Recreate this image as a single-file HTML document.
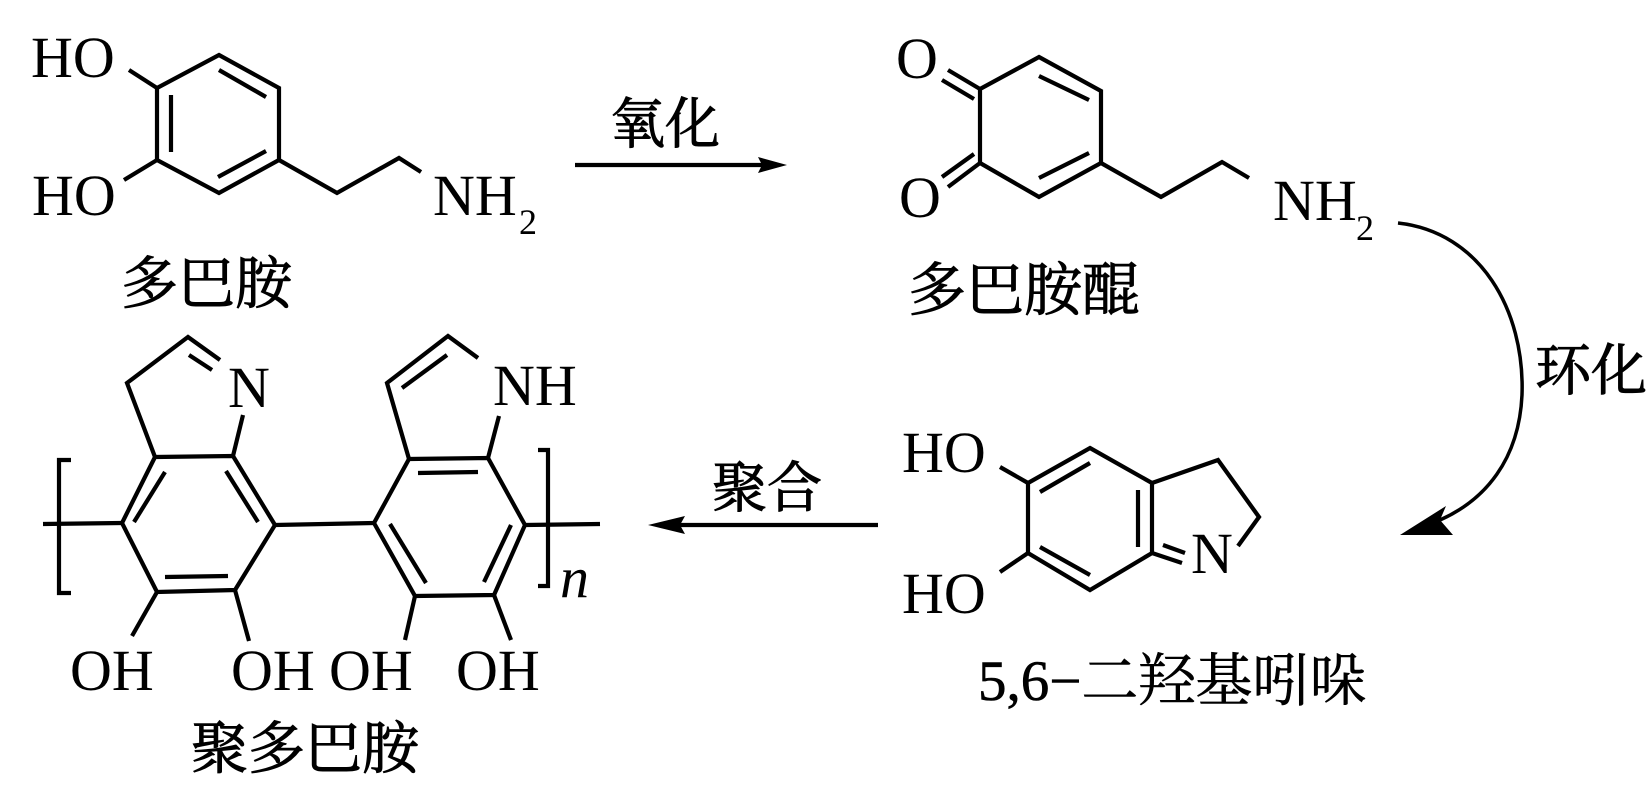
<!DOCTYPE html>
<html><head><meta charset="utf-8"><style>
html,body{margin:0;padding:0;background:#fff;}
svg{display:block;}
.t{font-family:"Liberation Serif",serif;font-size:58px;fill:#000;}
.c{font-family:"Liberation Serif","Noto Serif CJK SC",serif;font-size:57px;fill:#000;stroke:#000;stroke-width:1;}
</style></head><body>
<svg width="1647" height="799" viewBox="0 0 1647 799" xmlns="http://www.w3.org/2000/svg">
<g stroke="#000" stroke-width="4.2" fill="none" stroke-linecap="butt" stroke-linejoin="miter">
<!-- dopamine -->
<polygon points="219,55 279,88 279,160 219,193 157,160 157,88"/>
<line x1="219" y1="70" x2="266" y2="97"/>
<line x1="171" y1="95" x2="171" y2="152"/>
<line x1="218" y1="177" x2="266" y2="151"/>
<line x1="157" y1="88" x2="129" y2="70"/>
<line x1="157" y1="160" x2="124" y2="180"/>
<polyline points="279,160 337,193 399,158 421,172"/>
<!-- oxidation arrow -->
<line x1="575" y1="165" x2="765" y2="165"/>
<!-- quinone -->
<polygon points="1039,57 1101,91 1101,163 1039,197 980,163 980,89"/>
<line x1="1039" y1="76" x2="1089" y2="100"/>
<line x1="1039" y1="178" x2="1089" y2="153"/>
<line x1="980" y1="89" x2="948" y2="70"/>
<line x1="974" y1="99" x2="942" y2="80"/>
<line x1="980" y1="163" x2="948" y2="187"/>
<line x1="974" y1="154" x2="942" y2="177"/>
<polyline points="1101,163 1161,197 1222,162 1249,178"/>
<!-- curved arrow -->
<path d="M1398,223 C1480,232 1525,310 1522,395 C1519,460 1485,500 1440,520" stroke-width="3.5"/>
<!-- indole -->
<polygon points="1090,448 1152,483 1152,553 1090,590 1028,553 1028,483"/>
<line x1="1040" y1="492" x2="1090" y2="463"/>
<line x1="1138" y1="490" x2="1138" y2="547"/>
<line x1="1040" y1="547" x2="1090" y2="575"/>
<polyline points="1152,483 1218,460 1259,517 1238,546"/>
<line x1="1152" y1="553" x2="1182" y2="563"/>
<line x1="1163" y1="545" x2="1185" y2="553"/>
<line x1="1028" y1="483" x2="1000" y2="467"/>
<line x1="1028" y1="553" x2="1000" y2="572"/>
<!-- polymerization arrow -->
<line x1="670" y1="525" x2="878" y2="525"/>
<!-- polymer left ring -->
<polygon points="155,457 233,456 275,525 235,590 157,592 122,523"/>
<line x1="165" y1="472" x2="134" y2="522"/>
<line x1="226" y1="471" x2="258" y2="522"/>
<line x1="165" y1="577" x2="228" y2="576"/>
<polyline points="155,457 127,383 188,337 220,360"/>
<line x1="189" y1="355" x2="212" y2="370"/>
<line x1="243" y1="415" x2="233" y2="456"/>
<line x1="43" y1="524" x2="122" y2="523"/>
<line x1="275" y1="525" x2="374" y2="523"/>
<!-- polymer right ring -->
<polygon points="409,459 488,458 525,525 494,595 415,596 374,523"/>
<line x1="418" y1="473" x2="478" y2="472"/>
<line x1="390" y1="524" x2="426" y2="583"/>
<line x1="511" y1="525" x2="484" y2="582"/>
<polyline points="409,459 387,383 448,336 478,358"/>
<line x1="402" y1="388" x2="447" y2="355"/>
<line x1="499" y1="416" x2="488" y2="458"/>
<line x1="525" y1="525" x2="600" y2="524"/>
<!-- brackets -->
<polyline points="71,460 59,460 59,593 71,593"/>
<polyline points="538,450 548,450 548,586 538,586"/>
<!-- OH bonds -->
<line x1="157" y1="592" x2="132" y2="636"/>
<line x1="235" y1="590" x2="249" y2="641"/>
<line x1="415" y1="596" x2="405" y2="640"/>
<line x1="494" y1="595" x2="511" y2="640"/>
</g>
<!-- arrowheads -->
<polygon points="787,165 758,157 762,165 758,173" fill="#000"/>
<polygon points="648,525 685,516 680,525 685,534" fill="#000"/>
<polygon points="1400,535 1446,506 1440,520 1453,535" fill="#000"/>
<!-- texts -->
<text class="t" x="31" y="77">HO</text>
<text class="t" x="32" y="215">HO</text>
<text class="t" x="433" y="215">NH</text>
<text class="t" x="519" y="234" style="font-size:36px">2</text>
<text class="c" x="121" y="303">多巴胺</text>
<text class="c" x="610" y="143" style="font-size:55px">氧化</text>
<text class="t" x="896" y="78">O</text>
<text class="t" x="899" y="217">O</text>
<text class="t" x="1273" y="220">NH</text>
<text class="t" x="1356" y="240" style="font-size:36px">2</text>
<text class="c" x="908" y="310" style="font-size:58px">多巴胺醌</text>
<text class="c" x="1535" y="390" style="font-size:56px">环化</text>
<text class="t" x="902" y="472">HO</text>
<text class="t" x="902" y="613">HO</text>
<text class="t" x="1191" y="573">N</text>
<text class="c" x="978" y="700" style="font-size:57px;stroke-width:0.6">5,6−二羟基吲哚</text>
<text class="c" x="712" y="507" style="font-size:55px">聚合</text>
<text class="t" x="228" y="407">N</text>
<text class="t" x="493" y="405">NH</text>
<text class="t" x="560" y="597" style="font-style:italic">n</text>
<text class="t" x="70" y="690">OH</text>
<text class="t" x="231" y="690">OH</text>
<text class="t" x="329" y="690">OH</text>
<text class="t" x="456" y="690">OH</text>
<text class="c" x="191" y="768">聚多巴胺</text>
</svg>
</body></html>
